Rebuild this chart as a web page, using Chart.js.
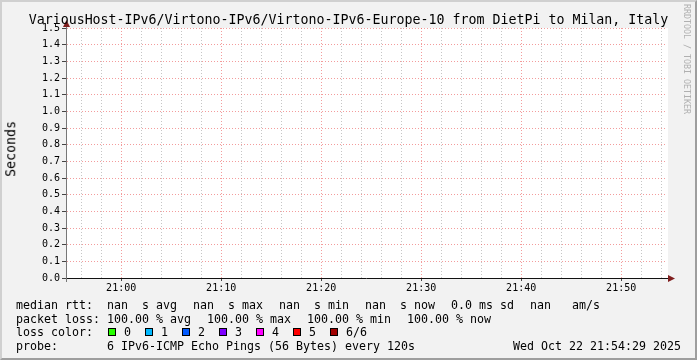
<!DOCTYPE html>
<html>
<head>
<meta charset="utf-8">
<script src="https://cdn.jsdelivr.net/npm/chart.js@4.4.1/dist/chart.umd.min.js"></script>
<style>
  html, body { margin: 0; padding: 0; }
  body { width: 697px; height: 360px; background: #f2f2f2; position: relative; overflow: hidden; font-family: "DejaVu Sans Mono", monospace; color: #000; }
  #frame { position: absolute; left: 0; top: 0; width: 693px; height: 356px; border-left: 2px solid #d0d0d0; border-top: 2px solid #d0d0d0; border-right: 2px solid #9e9e9e; border-bottom: 2px solid #9e9e9e; pointer-events: none; }
  #c { position: absolute; left: 0; top: 0; }
  .title { position: absolute; left: 0; top: 13.3px; width: 697px; text-align: center; font-size: 13.29px; line-height: 13.29px; white-space: pre; }
  .ytitle { position: absolute; left: 4px; top: 121px; font-size: 13.29px; line-height: 13.29px; writing-mode: vertical-rl; transform: rotate(180deg); white-space: pre; }
  .mark { position: absolute; left: 683px; top: 4px; font-size: 8.3px; line-height: 8.3px; color: #b0b0b0; writing-mode: vertical-rl; white-space: pre; }
  .row { position: absolute; left: 16px; font-size: 11.63px; line-height: 11.63px; white-space: pre; }
  .row span + span { margin-left: 16px; }
  .row .sw { display: inline-block; width: 6px; height: 6px; border: 1px solid #000; margin-right: 8px; vertical-align: baseline; }
  .row .li { margin-left: 14px; font-weight: normal; }
  .row .li.first { margin-left: 15px; }
  .right { position: absolute; right: 16px; font-size: 11.63px; line-height: 11.63px; white-space: pre; }
</style>
</head>
<body>
<canvas id="c" width="697" height="360"></canvas>
<div class="title" id="title"></div>
<div class="ytitle" id="ytitle"></div>
<div class="mark" id="mark"></div>
<div class="row" id="rowRtt" style="top:299.5px"></div>
<div class="row" id="rowLoss" style="top:313.5px"></div>
<div class="row" id="rowColor" style="top:326.5px"></div>
<div class="row" id="rowProbe" style="top:341px"></div>
<div class="right" id="stamp" style="top:341px"></div>
<div id="frame"></div>
<script>
const chartTitle = "VariousHost-IPv6/Virtono-IPv6/Virtono-IPv6-Europe-10 from DietPi to Milan, Italy";
const yTitle = "Seconds";
const watermark = "RRDTOOL / TOBI OETIKER";

// time window of the graph and probe samples (every 120 s)
const rangeStart = "20:54:29";
const rangeEnd = "21:54:29";
const sampleTimes = [
  "20:56:29", "20:58:29", "21:00:29", "21:02:29", "21:04:29", "21:06:29",
  "21:08:29", "21:10:29", "21:12:29", "21:14:29", "21:16:29", "21:18:29",
  "21:20:29", "21:22:29", "21:24:29", "21:26:29", "21:28:29", "21:30:29",
  "21:32:29", "21:34:29", "21:36:29", "21:38:29", "21:40:29", "21:42:29",
  "21:44:29", "21:46:29", "21:48:29", "21:50:29", "21:52:29", "21:54:29",
];
// every reading is nan (100% loss)
const medianRtt = [
  null, null, null, null, null, null, null, null, null, null,
  null, null, null, null, null, null, null, null, null, null,
  null, null, null, null, null, null, null, null, null, null,
];

const xTickLabels = ["21:00", "21:10", "21:20", "21:30", "21:40", "21:50"];
const yTickLabels = ["0.0", "0.1", "0.2", "0.3", "0.4", "0.5", "0.6", "0.7", "0.8", "0.9", "1.0", "1.1", "1.2", "1.3", "1.4", "1.5"];

const rttItems = ["median rtt:  nan  s avg", "nan  s max", "nan  s min", "nan  s now", "0.0 ms sd", "nan   am/s"];
const lossItems = ["packet loss: 100.00 % avg", "100.00 % max", "100.00 % min", "100.00 % now"];
const lossLabels = ["0", "1", "2", "3", "4", "5", "6/6"];
const lossColors = ["#26ff00", "#00b8ff", "#0059ff", "#7e00ff", "#ff00ff", "#ff0000", "#a10000"];
const probeText = "probe:       6 IPv6-ICMP Echo Pings (56 Bytes) every 120s";
const stampText = "Wed Oct 22 21:54:29 2025";

const GRID = "rgba(160,160,160,0.6)";
const MGRID = "rgba(235,90,90,0.6)";
const ARROW = "#801f1f";
const MONO = "'DejaVu Sans Mono', monospace";

const toMin = (s) => {
  const [h, m, sec = 0] = s.split(":").map(Number);
  return h * 60 + m + sec / 60;
};
const fmt = (v) => `${Math.floor(v / 60)}:${String(Math.round(v % 60)).padStart(2, "0")}`;
const isMajor = (v) => xTickLabels.includes(fmt(v)) && Math.abs(v - Math.round(v)) < 1e-6;

// text parts
document.getElementById("title").textContent = chartTitle;
document.getElementById("ytitle").textContent = yTitle;
document.getElementById("mark").textContent = watermark;
document.getElementById("rowRtt").innerHTML = rttItems.map((t) => `<span>${t}</span>`).join("");
document.getElementById("rowLoss").innerHTML = lossItems.map((t) => `<span>${t}</span>`).join("");
let colorHtml = "loss color:";
lossLabels.forEach((l, i) => {
  colorHtml += `<b class="li${i === 0 ? " first" : ""}"><i class="sw" style="background:${lossColors[i]}"></i>${l}</b>`;
});
document.getElementById("rowColor").innerHTML = colorHtml;
document.getElementById("rowProbe").textContent = probeText;
document.getElementById("stamp").textContent = stampText;

const decor = {
  id: "decor",
  beforeDraw(chart) {
    const { ctx, chartArea: a } = chart;
    ctx.save();
    ctx.fillStyle = "#fff";
    ctx.fillRect(a.left, a.top, a.right - a.left + 2, a.bottom - a.top);
    ctx.restore();
  },
  afterDraw(chart) {
    const { ctx, chartArea: a } = chart;
    const x0 = Math.round(a.left) + 0.5;
    const y0 = Math.round(a.bottom) + 0.5;
    ctx.save();
    ctx.lineWidth = 1;
    ctx.strokeStyle = "#777";
    ctx.beginPath();
    ctx.moveTo(x0, a.top);
    ctx.lineTo(x0, a.top - 6);
    ctx.moveTo(x0, a.bottom);
    ctx.lineTo(x0, a.bottom + 4);
    ctx.stroke();
    ctx.strokeStyle = "#111";
    ctx.beginPath();
    ctx.moveTo(a.right, y0);
    ctx.lineTo(a.right + 3, y0);
    ctx.stroke();
    ctx.fillStyle = ARROW;
    ctx.beginPath();
    ctx.moveTo(x0, a.top - 8);
    ctx.lineTo(x0 - 3.5, a.top - 1);
    ctx.lineTo(x0 + 3.5, a.top - 1);
    ctx.closePath();
    ctx.fill();
    ctx.beginPath();
    ctx.moveTo(a.right + 9, y0);
    ctx.lineTo(a.right + 2, y0 - 3.5);
    ctx.lineTo(a.right + 2, y0 + 3.5);
    ctx.closePath();
    ctx.fill();
    ctx.restore();
  },
};

new Chart(document.getElementById("c"), {
  type: "line",
  data: {
    datasets: [{
      label: "median rtt",
      data: sampleTimes.map((t, i) => ({ x: toMin(t), y: medianRtt[i] })),
      borderColor: lossColors[0],
      borderWidth: 1,
      pointRadius: 0,
      spanGaps: false,
    }],
  },
  options: {
    responsive: false,
    animation: false,
    devicePixelRatio: 1,
    layout: { padding: { top: 28, left: 0, right: 31, bottom: 0 } },
    plugins: { legend: { display: false }, tooltip: { enabled: false }, title: { display: false } },
    scales: {
      x: {
        type: "linear",
        min: toMin(rangeStart),
        max: toMin(rangeEnd),
        afterBuildTicks: (scale) => {
          const t = [];
          for (let m = Math.ceil(scale.min / 2) * 2; m <= scale.max; m += 2) t.push({ value: m });
          scale.ticks = t;
        },
        afterFit: (scale) => { scale.height = 82; },
        ticks: {
          autoSkip: false,
          maxRotation: 0,
          padding: 1,
          color: "#000",
          font: { family: MONO, size: 10 },
          callback: (v) => (isMajor(v) ? fmt(v) : ""),
        },
        grid: {
          color: (c) => (c.tick && isMajor(c.tick.value) ? MGRID : GRID),
          tickColor: (c) => (c.tick && isMajor(c.tick.value) ? "#444" : "rgba(0,0,0,0)"),
          tickLength: 3,
          lineWidth: 1,
        },
        border: { display: true, color: "#111", width: 1, dash: [1, 2] },
      },
      y: {
        min: 0,
        max: 1.5,
        afterBuildTicks: (scale) => { scale.ticks = yTickLabels.map((s) => ({ value: +s })); },
        afterFit: (scale) => { scale.width = 66; },
        ticks: {
          padding: 2,
          color: "#000",
          font: { family: MONO, size: 10 },
          callback: (v) => yTickLabels.find((s) => Math.abs(+s - v) < 1e-6) || "",
        },
        grid: {
          color: (c) => (c.tick && c.tick.value === 0 ? "rgba(0,0,0,0)" : MGRID),
          tickColor: "#444",
          tickLength: 4,
          lineWidth: 1,
        },
        border: { display: true, color: "#777", width: 1, dash: [1, 2] },
      },
    },
  },
  plugins: [decor],
});
</script>
</body>
</html>
